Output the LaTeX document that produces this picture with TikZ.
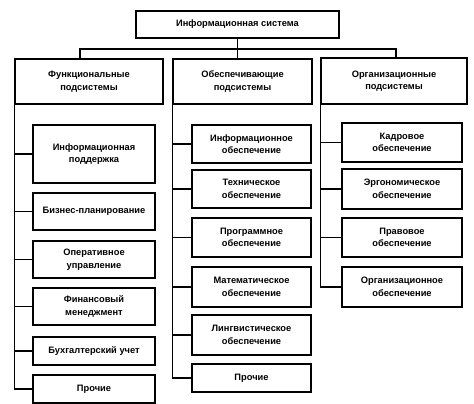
\documentclass[tikz,border=0pt]{standalone}
\usepackage{fontspec}
\setmainfont{Liberation Sans}
\begin{document}
\begin{tikzpicture}[x=1pt,y=-1pt,
  box/.style={draw,line width=1.1pt,align=center,inner sep=0pt,font=\fontsize{9.3}{12.5}\selectfont\bfseries},
  ln/.style={line width=1.1pt}]
\useasboundingbox (0,0) rectangle (474,404);
% top
\node[box,minimum width=203,minimum height=27] (top) at (237.5,24.5) {Информационная система};
% headers
\node[box,minimum width=148,minimum height=45] (hL) at (89,81.5) {Функциональные\\подсистемы};
\node[box,minimum width=139,minimum height=45] (hM) at (242.5,81.5) {Обеспечивающие\\подсистемы};
\node[box,minimum width=146,minimum height=46] (hR) at (394,81) {Организационные\\подсистемы};
% bus
\coordinate (busL) at (80,49);
\coordinate (busR) at (396,49);
\draw[ln] (top.south) -- (top.south |- busL);
\draw[ln] (hL.north -| busL) -- (busL) -- (busR) -- (hR.north -| busR);
\draw[ln] (top.south |- busL) -- (hM.north -| top.south);
% left column
\node[box,minimum width=122,minimum height=58] (l1) at (94,154) {Информационная\\поддержка};
\node[box,minimum width=122,minimum height=37] (l2) at (94,211.5) {Бизнес-планирование};
\node[box,minimum width=122,minimum height=37] (l3) at (94,259.5) {Оперативное\\управление};
\node[box,minimum width=122,minimum height=37] (l4) at (94,306.5) {Финансовый\\менеджмент};
\node[box,minimum width=122,minimum height=28] (l5) at (94,351) {Бухгалтерский учет};
\node[box,minimum width=122,minimum height=28] (l6) at (94,389) {Прочие};
\draw[ln] (hL.south west) |- (l6.west);
\foreach \n in {l1,l2,l3,l4,l5} \draw[ln] (\n.west -| hL.south west) -- (\n.west);
% middle column
\node[box,minimum width=119,minimum height=38] (m1) at (251.5,144) {Информационное\\обеспечение};
\node[box,minimum width=119,minimum height=38] (m2) at (251.5,189) {Техническое\\обеспечение};
\node[box,minimum width=119,minimum height=39] (m3) at (251.5,237.5) {Программное\\обеспечение};
\node[box,minimum width=119,minimum height=40] (m4) at (251.5,287) {Математическое\\обеспечение};
\node[box,minimum width=119,minimum height=40] (m5) at (251.5,335) {Лингвистическое\\обеспечение};
\node[box,minimum width=119,minimum height=28] (m6) at (251.5,378) {Прочие};
\draw[ln] (hM.south west) |- (m6.west);
\foreach \n in {m1,m2,m3,m4,m5} \draw[ln] (\n.west -| hM.south west) -- (\n.west);
% right column
\node[box,minimum width=120,minimum height=39] (r1) at (402,142.5) {Кадровое\\обеспечение};
\node[box,minimum width=120,minimum height=40] (r2) at (402,189) {Эргономическое\\обеспечение};
\node[box,minimum width=120,minimum height=39] (r3) at (402,237.5) {Правовое\\обеспечение};
\node[box,minimum width=120,minimum height=40] (r4) at (402,287) {Организационное\\обеспечение};
\draw[ln] (hR.south west) |- (r4.west);
\foreach \n in {r1,r2,r3} \draw[ln] (\n.west -| hR.south west) -- (\n.west);
\end{tikzpicture}
\end{document}
